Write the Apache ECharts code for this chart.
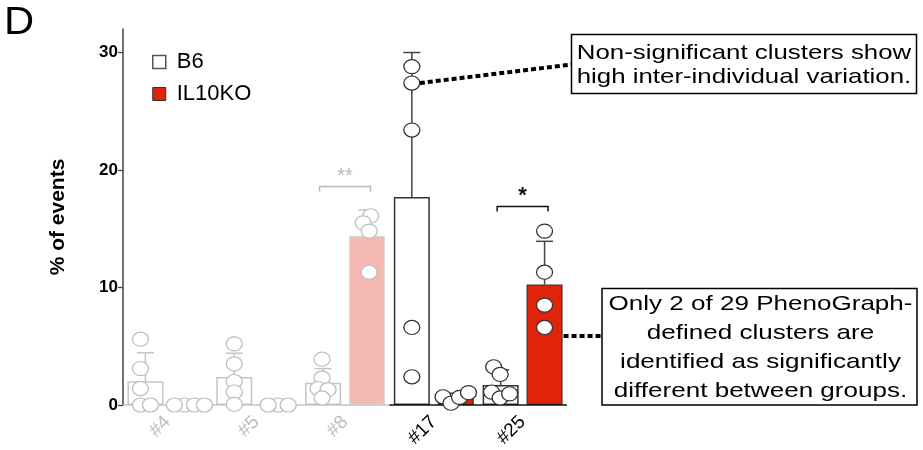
<!DOCTYPE html>
<html><head><meta charset="utf-8">
<script src="https://cdn.jsdelivr.net/npm/echarts@6/dist/echarts.min.js"></script>
<style>html,body{margin:0;padding:0;background:#fff}#c{width:923px;height:450px}</style>
</head><body><div id="c"></div>
<script>
// ---------- data ----------
const categories = ['#4', '#5', '#8', '#17', '#25'];
const seriesNames = ['B6', 'IL10KO'];
const b6Mean = [2.02, 2.38, 1.89, 17.7, 1.70];
const il10Mean = [0, 0, 14.4, 0.6, 10.25];
const b6SD = [2.43, 2.02, 1.21, 12.3, 1.3];
const il10SD = [0, 0, 2.2, 0.4, 3.68];
const b6Points = [
  [5.6, 3.1, 1.4, 0, 0],
  [5.2, 3.5, 2.0, 1.1, 0.05],
  [3.9, 2.3, 1.4, 1.3, 0.6],
  [28.8, 27.4, 23.4, 6.6, 2.4],
  [3.25, 2.6, 1.1, 0.6, 0.95]
];
const il10Points = [
  [0, 0, 0, 0],
  [0, 0, 0],
  [16.1, 15.5, 14.8, 11.3],
  [0.7, 0.15, 0.65, 1.05],
  [14.8, 11.3, 8.5, 6.6]
];
const yTicks = [0, 10, 20, 30];
const sigCats = [2, 4];
const sigLevels = [18.6, 16.9];
const sigLabels = ['**', '*'];
const note1 = 'Non-significant clusters show\nhigh inter-individual variation.';
const note2 = 'Only 2 of 29 PhenoGraph-\ndefined clusters are\nidentified as significantly\ndifferent between groups.';

// ---------- styles ----------
const FONT = '"Liberation Sans", Arial, Helvetica, sans-serif';
const RED = '#e2230c';
const PINK = '#f5b9b3';
const GRAY = '#c4c4c4';
const DARK = '#333';
const BAR_W = 36;
const BAR_GAP = 0.22;
const BAR_OFF = (BAR_W + BAR_W * BAR_GAP) / 2;
const isHi = i => i >= 3;

function b6Style(i) {
  return isHi(i) ? {color: '#fff', borderColor: DARK, borderWidth: 1.5}
                 : {color: '#fff', borderColor: GRAY, borderWidth: 1.5};
}
function ilStyle(i) {
  if (isHi(i)) return {color: RED, borderColor: DARK, borderWidth: 1.2};
  return {color: PINK, borderColor: '#dadada', borderWidth: 1.2};
}

function swarm(ys, D) {
  const order = ys.map((y, k) => k).sort((a, b) => ys[b] - ys[a]);
  const placed = [];
  const dx = new Array(ys.length).fill(0);
  order.forEach((k, n) => {
    for (let s = 0; s < 80; s += 0.5) {
      const cands = s === 0 ? [0] : (n % 2 ? [s, -s] : [-s, s]);
      let ok = null;
      for (const c of cands) {
        if (placed.every(p => Math.hypot(p.x - c, p.y - ys[k]) >= D)) { ok = c; break; }
      }
      if (ok !== null) { dx[k] = ok; placed.push({x: ok, y: ys[k]}); break; }
    }
  });
  const mn = Math.min(...dx), mx = Math.max(...dx);
  const mid = (mn + mx) / 2;
  return dx.map(d => d - mid);
}

function errRender(side) {
  return function (params, api) {
    const i = api.value(0), m = api.value(1), sd = api.value(2);
    if (!(sd > 0)) return;
    const p0 = api.coord([i, m]), p1 = api.coord([i, m + sd]);
    const x = p0[0] + side * BAR_OFF;
    const col = isHi(i) ? '#444' : GRAY;
    const st = {stroke: col, lineWidth: 1.5};
    return {type: 'group', children: [
      {type: 'line', shape: {x1: x, y1: p0[1], x2: x, y2: p1[1]}, style: st},
      {type: 'line', shape: {x1: x - 8.5, y1: p1[1], x2: x + 8.5, y2: p1[1]}, style: st}
    ]};
  };
}

function ptsRender(arr, side) {
  return function (params, api) {
    const i = api.value(0);
    const vals = arr[i];
    const cx = api.coord([i, 0])[0] + side * BAR_OFF;
    const ys = vals.map(v => api.coord([i, v])[1]);
    const dx = swarm(ys, 10);
    const stroke = isHi(i) ? DARK : '#bdbdbd';
    return {type: 'group', children: vals.map((v, k) => ({
      type: 'circle', x: cx + dx[k], y: ys[k], scaleY: 0.88,
      shape: {cx: 0, cy: 0, r: 8},
      style: {fill: '#fff', stroke: stroke, lineWidth: 1.3}
    }))};
  };
}

function baseRender(params, api) {
  const i = api.value(0);
  const c = api.coord([i, 0]);
  const w = api.size([1, 0])[0];
  return {type: 'line', shape: {x1: c[0] - w / 2, y1: c[1], x2: c[0] + w / 2, y2: c[1]},
    style: {stroke: isHi(i) ? '#111' : GRAY, lineWidth: 1.5}};
}

function sigRender(params, api) {
  const k = params.dataIndex;
  const i = api.value(0), v = api.value(1);
  const p = api.coord([i, v]);
  const half = BAR_OFF + 3.5;
  const col = isHi(i) ? '#111' : '#b9b9b9';
  return {type: 'group', children: [
    {type: 'polyline', shape: {points: [[p[0] - half, p[1] + 5], [p[0] - half, p[1]], [p[0] + half, p[1]], [p[0] + half, p[1] + 5]]},
      style: {stroke: col, lineWidth: 1.5, fill: null}},
    {type: 'text', x: p[0], y: p[1] - 10,
      style: {text: sigLabels[k], fill: col, font: (isHi(i) ? 'bold 22px ' : '20px ') + FONT, align: 'center', verticalAlign: 'middle'}}
  ]};
}

const chart = echarts.init(document.getElementById('c'));
const option = {
  animation: false,
  backgroundColor: '#fff',
  grid: {left: 123, right: 356, top: 29, bottom: 45, containLabel: false, outerBoundsMode: 'none'},
  legend: {
    orient: 'vertical', left: 147, top: 46, itemWidth: 13, itemHeight: 13, itemGap: 10,
    selectedMode: false,
    textStyle: {fontSize: 22, color: '#000', fontFamily: FONT, padding: [0, 0, 0, 6]},
    data: [
      {name: seriesNames[0], icon: 'rect', itemStyle: {color: '#fff', borderColor: '#555', borderWidth: 1.5}},
      {name: seriesNames[1], icon: 'rect', itemStyle: {color: RED, borderColor: '#333', borderWidth: 1}}
    ]
  },
  xAxis: {
    type: 'category', data: categories,
    axisLine: {show: false}, axisTick: {show: false},
    axisLabel: {rotate: 45, fontSize: 19, margin: 14, fontFamily: FONT,
      color: (v, i) => isHi(i) ? '#000' : '#bdbdbd'}
  },
  yAxis: {
    type: 'value', min: 0, max: 32, interval: 10,
    name: '% of events', nameLocation: 'middle', nameGap: 54,
    nameTextStyle: {fontSize: 21, fontWeight: 'bold', color: '#000', fontFamily: FONT},
    axisLine: {show: true, lineStyle: {color: '#444', width: 1.5}},
    axisTick: {show: true, length: 5, lineStyle: {color: '#444', width: 1.3}, customValues: yTicks},
    axisLabel: {fontSize: 17, fontWeight: 'bold', color: '#000', margin: 5, fontFamily: FONT, customValues: yTicks},
    splitLine: {show: false}
  },
  series: [
    {name: seriesNames[0], type: 'bar', barWidth: BAR_W, barGap: (BAR_GAP * 100) + '%',
      itemStyle: {color: '#fff', borderColor: '#555', borderWidth: 1.5},
      data: b6Mean.map((v, i) => ({value: v, itemStyle: b6Style(i)})), z: 2},
    {name: seriesNames[1], type: 'bar', barWidth: BAR_W,
      itemStyle: {color: RED, borderColor: '#333', borderWidth: 1},
      data: il10Mean.map((v, i) => ({value: v, itemStyle: ilStyle(i)})), z: 2},
    {type: 'custom', name: 'base', renderItem: baseRender, z: 3,
      data: categories.map((c, i) => [i, 0])},
    {type: 'custom', name: 'errB6', renderItem: errRender(-1), z: 4,
      data: b6Mean.map((m, i) => [i, m, b6SD[i]])},
    {type: 'custom', name: 'errIL', renderItem: errRender(1), z: 4,
      data: il10Mean.map((m, i) => [i, m, il10SD[i]])},
    {type: 'custom', name: 'ptsB6', renderItem: ptsRender(b6Points, -1), z: 5,
      data: b6Mean.map((m, i) => [i, m])},
    {type: 'custom', name: 'ptsIL', renderItem: ptsRender(il10Points, 1), z: 5,
      data: il10Mean.map((m, i) => [i, m])},
    {type: 'custom', name: 'sig', renderItem: sigRender, z: 5,
      data: sigCats.map((c, k) => [c, sigLevels[k]])}
  ]
};
chart.setOption(option);

// annotations
const pA = chart.convertToPixel({xAxisIndex: 0, yAxisIndex: 0}, [3, b6Points[3][1]]);
const pB = chart.convertToPixel({xAxisIndex: 0, yAxisIndex: 0}, [4, 0]);
const box1 = {x: 571.5, y: 34.5, w: 345, h: 59};
const box2 = {x: 602, y: 288.5, w: 315, h: 116.5};
const dotted = {stroke: '#000', lineWidth: 4, lineDash: [5, 3]};
chart.setOption({graphic: [
  {type: 'text', x: 4, y: 4, scaleX: 1.07,
    style: {text: 'D', font: '39px ' + FONT, fill: '#000', align: 'left', verticalAlign: 'top'}},
  {type: 'line', z: 10, shape: {x1: pA[0] - BAR_OFF + 8, y1: pA[1], x2: box1.x, y2: box1.y + 30}, style: dotted},
  {type: 'rect', z: 10, shape: {x: box1.x, y: box1.y, width: box1.w, height: box1.h},
    style: {fill: '#fff', stroke: '#000', lineWidth: 1.5}},
  {type: 'text', z: 11, x: box1.x + box1.w / 2, y: box1.y + box1.h / 2 + 1, scaleX: 1.23,
    style: {text: note1, font: '21px ' + FONT, lineHeight: 24, fill: '#000', align: 'center', verticalAlign: 'middle'}},
  {type: 'line', z: 10, shape: {x1: pB[0] + BAR_OFF + BAR_W / 2 + 1, y1: 336, x2: box2.x, y2: 336}, style: dotted},
  {type: 'rect', z: 10, shape: {x: box2.x, y: box2.y, width: box2.w, height: box2.h},
    style: {fill: '#fff', stroke: '#000', lineWidth: 1.5}},
  {type: 'text', z: 11, x: box2.x + box2.w / 2 + 1, y: box2.y + box2.h / 2 + 1, scaleX: 1.24,
    style: {text: note2, font: '21px ' + FONT, lineHeight: 29, fill: '#000', align: 'center', verticalAlign: 'middle'}}
]});
</script>
</body></html>
